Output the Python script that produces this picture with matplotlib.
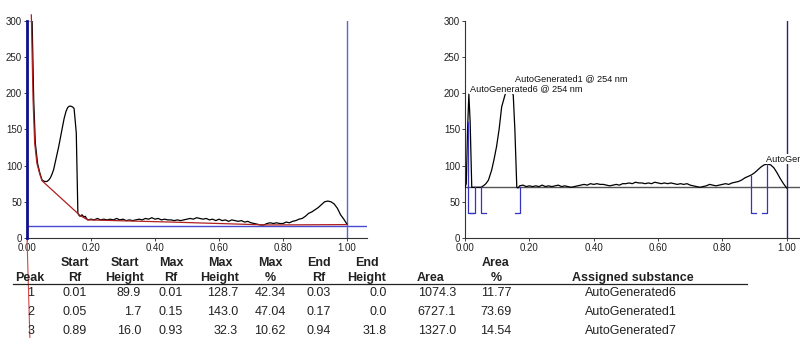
import numpy as np
import matplotlib
matplotlib.use("Agg")
import matplotlib.pyplot as plt

plt.rcParams['font.family'] = ['Liberation Sans', 'DejaVu Sans']

# ---- scan 1: raw densitogram with fitted baseline ----
rf_raw = [0.000, 0.016, 0.021, 0.026, 0.033, 0.040, 0.047, 0.055, 0.062, 0.068,
          0.073, 0.078, 0.083, 0.090, 0.099, 0.109, 0.116, 0.122, 0.127, 0.132,
          0.137, 0.142, 0.147, 0.150, 0.154, 0.159, 0.163, 0.166, 0.172, 0.178,
          0.182, 0.186,
          0.19, 0.20, 0.21, 0.22, 0.23, 0.24, 0.25, 0.26, 0.27, 0.28, 0.29, 0.30,
          0.31, 0.32, 0.33, 0.34, 0.35, 0.36, 0.37, 0.38, 0.39, 0.40, 0.41, 0.42,
          0.43, 0.44, 0.45, 0.46, 0.47, 0.48, 0.49, 0.50, 0.51, 0.52, 0.53, 0.54,
          0.55, 0.56, 0.57, 0.58, 0.59, 0.60, 0.61, 0.62, 0.63, 0.64, 0.65, 0.66,
          0.67, 0.68, 0.69, 0.70, 0.71, 0.72, 0.73, 0.74, 0.75, 0.76, 0.77, 0.78,
          0.79, 0.80, 0.81, 0.82, 0.83, 0.84, 0.85, 0.86, 0.87, 0.88, 0.89, 0.90,
          0.91, 0.92, 0.93, 0.94, 0.95, 0.96, 0.97, 0.98, 0.99, 1.00]
au_raw = [300, 300, 190, 131, 103, 90, 80, 78, 78, 80,
          83, 88, 94, 108, 126, 149, 165, 175, 180, 182,
          182, 181, 179, 165, 145, 34, 31, 30, 32, 29,
          30, 27,
          25, 26, 25, 27, 25, 26, 25, 26, 25, 27, 25, 26,
          24, 25, 24, 25, 26, 25, 27, 26, 28, 26, 27, 25,
          26, 25, 25, 24, 25, 24, 25, 26, 27, 26, 28, 27,
          26, 27, 25, 26, 24, 26, 24, 25, 23, 25, 24, 23,
          24, 22, 23, 21, 20, 19, 18, 18, 20, 21, 20, 21,
          20, 20, 22, 21, 23, 24, 26, 27, 30, 34, 36, 39,
          42, 46, 50, 51, 50, 47, 41, 32, 26, 19]

base_rf = [0.0135, 0.019, 0.024, 0.031, 0.040, 0.047, 0.166, 0.19, 0.45, 0.75, 1.00]
base_au = [308, 190, 131, 103, 88, 79, 31, 25, 22, 18, 18.5]
base_tail_rf = [0.0, 0.009]
base_tail_au = [0, -138]
front_level = 16.6

# ---- scan 2: baseline-corrected trace with integrated peaks ----
baseline2 = 70
rf_cor = [0.000, 0.004, 0.008, 0.012, 0.016, 0.021, 0.030, 0.040, 0.050, 0.057,
          0.065, 0.073, 0.083, 0.090, 0.098, 0.106, 0.114, 0.124, 0.132, 0.140,
          0.150, 0.155, 0.161, 0.165, 0.17, 0.18, 0.19,
          0.20, 0.21, 0.22, 0.23, 0.24, 0.25, 0.26, 0.27, 0.28, 0.29, 0.30, 0.31,
          0.32, 0.33, 0.34, 0.35, 0.36, 0.37, 0.38, 0.39, 0.40, 0.41, 0.42, 0.43,
          0.44, 0.45, 0.46, 0.47, 0.48, 0.49, 0.50, 0.51, 0.52, 0.53, 0.54, 0.55,
          0.56, 0.57, 0.58, 0.59, 0.60, 0.61, 0.62, 0.63, 0.64, 0.65, 0.66, 0.67,
          0.68, 0.69, 0.70, 0.71, 0.72, 0.73, 0.74, 0.75, 0.76, 0.77, 0.78, 0.79,
          0.80, 0.81, 0.82, 0.83, 0.84, 0.85, 0.86, 0.87, 0.88, 0.89, 0.90, 0.91,
          0.92, 0.93, 0.94, 0.95, 0.96, 0.97, 0.98, 0.99, 1.00]
au_cor = [70, 75, 150, 198.7, 160, 70, 70, 70, 70, 72,
          75, 80, 94, 108, 126, 150, 181, 197, 206, 211,
          197, 150, 70, 69, 72, 73, 71,
          72, 71, 72, 71, 73, 71, 72, 71, 72, 73, 71, 72,
          71, 70, 71, 72, 73, 74, 73, 75, 74, 75, 74, 74,
          73, 72, 73, 74, 73, 75, 75, 76, 75, 77, 76, 76,
          75, 76, 75, 77, 76, 75, 76, 75, 76, 75, 74, 75,
          74, 75, 73, 72, 71, 70, 71, 72, 74, 73, 72, 73,
          74, 75, 74, 76, 77, 78, 80, 83, 85, 87, 90, 94,
          98, 101, 102, 101, 97, 90, 82, 75, 69]

# ---- peak table ----
peak = [1, 2, 3]
start_rf = [0.01, 0.05, 0.89]
start_height = [89.9, 1.7, 16.0]
max_rf = [0.01, 0.15, 0.93]
max_height = [128.7, 143.0, 32.3]
max_pct = [42.34, 47.04, 10.62]
end_rf = [0.03, 0.17, 0.94]
end_height = [0.0, 0.0, 31.8]
area = [1074.3, 6727.1, 1327.0]
area_pct = [11.77, 73.69, 14.54]
substance = ["AutoGenerated6", "AutoGenerated1", "AutoGenerated7"]
wavelength = "254 nm"

W, H = 800, 338
fig = plt.figure(figsize=(W / 100, H / 100), dpi=100)

ax1 = fig.add_axes([27 / W, 100 / H, 340 / W, 217.3 / H])
ax2 = fig.add_axes([465 / W, 100 / H, 341.8 / W, 217.3 / H])

for ax in (ax1, ax2):
    ax.set_xlim(0, 1.0625)
    ax.set_ylim(0, 300)
    ax.spines['top'].set_visible(False)
    ax.spines['right'].set_visible(False)
    for s in ('left', 'bottom'):
        ax.spines[s].set_linewidth(0.8)
        ax.spines[s].set_color('#333333')
    ax.set_xticks([0, 0.2, 0.4, 0.6, 0.8, 1.0])
    ax.set_xticklabels(["%.2f" % v for v in [0, 0.2, 0.4, 0.6, 0.8, 1.0]])
    ax.set_yticks([0, 50, 100, 150, 200, 250, 300])
    ax.tick_params(axis='both', length=2, width=0.6, pad=1.5,
                   labelsize=7, colors='#222222')
    ax.patch.set_alpha(0)

# left: raw scan
ax1.plot(rf_raw, au_raw, color='black', lw=0.9, zorder=3)
ax1.plot(base_rf, base_au, color='#b02020', lw=0.9, zorder=4, clip_on=False)
ax1.plot(base_tail_rf, base_tail_au, color='#d04848', lw=0.8, clip_on=False)
ax1.axhline(front_level, color='#4a4ad0', lw=1.0, zorder=2)
ax1.plot([0, 0], [0, 300], color='#10108a', lw=2.0, zorder=5, clip_on=False)
ax1.plot([1.0, 1.0], [0, 300], color='#6060d0', lw=1.0, zorder=2)

# right: corrected scan with peak brackets
ax2.plot(rf_cor, au_cor, color='black', lw=0.9, zorder=3)
ax2.axhline(baseline2, color='#555555', lw=1.0, zorder=2)
ax2.plot([1.0, 1.0], [0, 300], color='#25257a', lw=1.0, zorder=2)

tick_bottom = 35
arm = 0.016
for i in range(len(peak)):
    x0, h0 = start_rf[i], baseline2 + start_height[i]
    ax2.plot([x0, x0, x0 + arm], [h0, tick_bottom, tick_bottom],
             color='#3434c0', lw=0.9, zorder=4)
    x1, h1 = end_rf[i], baseline2 + end_height[i]
    ax2.plot([x1, x1, x1 - arm], [h1, tick_bottom, tick_bottom],
             color='#3434c0', lw=0.9, zorder=4)
    ax2.annotate(f"{substance[i]} @ {wavelength}",
                 (max_rf[i], baseline2 + max_height[i]),
                 xytext=(1, 0.5), textcoords='offset points',
                 ha='left', va='bottom', fontsize=6.6, color='#111111',
                 zorder=6, annotation_clip=False,
                 bbox=dict(facecolor='white', edgecolor='none', pad=0.3))

# ---- table below the plots ----
def fx(px):
    return px / W

def fy(py):
    return 1 - py / H

columns = [
    # top header, bottom header, values, header x, value x, value align
    ("", "Peak", [str(v) for v in peak], 30, 31, 'center'),
    ("Start", "Rf", ["%.2f" % v for v in start_rf], 75, 75, 'center'),
    ("Start", "Height", ["%.1f" % v for v in start_height], 125, 141, 'right'),
    ("Max", "Rf", ["%.2f" % v for v in max_rf], 171, 171, 'center'),
    ("Max", "Height", ["%.1f" % v for v in max_height], 220, 238, 'right'),
    ("Max", "%", ["%.2f" % v for v in max_pct], 270, 270, 'center'),
    ("End", "Rf", ["%.2f" % v for v in end_rf], 319, 319, 'center'),
    ("End", "Height", ["%.1f" % v for v in end_height], 367, 387, 'right'),
    ("", "Area", ["%.1f" % v for v in area], 431, 437, 'center'),
    ("Area", "%", ["%.2f" % v for v in area_pct], 496, 496, 'center'),
    ("", "Assigned substance", substance, 633, 631, 'center'),
]

head_y = [262.5, 278]
row_y = [293.5, 312, 331.5]
for top, bottom, vals, hx, vx, ha in columns:
    if top:
        fig.text(fx(hx), fy(head_y[0]), top, ha='center', va='center',
                 fontsize=9, fontweight='bold', color='#222222')
    fig.text(fx(hx), fy(head_y[1]), bottom, ha='center', va='center',
             fontsize=9, fontweight='bold', color='#222222')
    for v, ry in zip(vals, row_y):
        fig.text(fx(vx), fy(ry), v, ha=ha, va='center', fontsize=9,
                 color='#222222')

fig.add_artist(plt.Line2D([fx(13), fx(747)], [fy(283.5), fy(283.5)],
                          color='#222222', lw=0.9))

fig.savefig("out.png", dpi=100)
